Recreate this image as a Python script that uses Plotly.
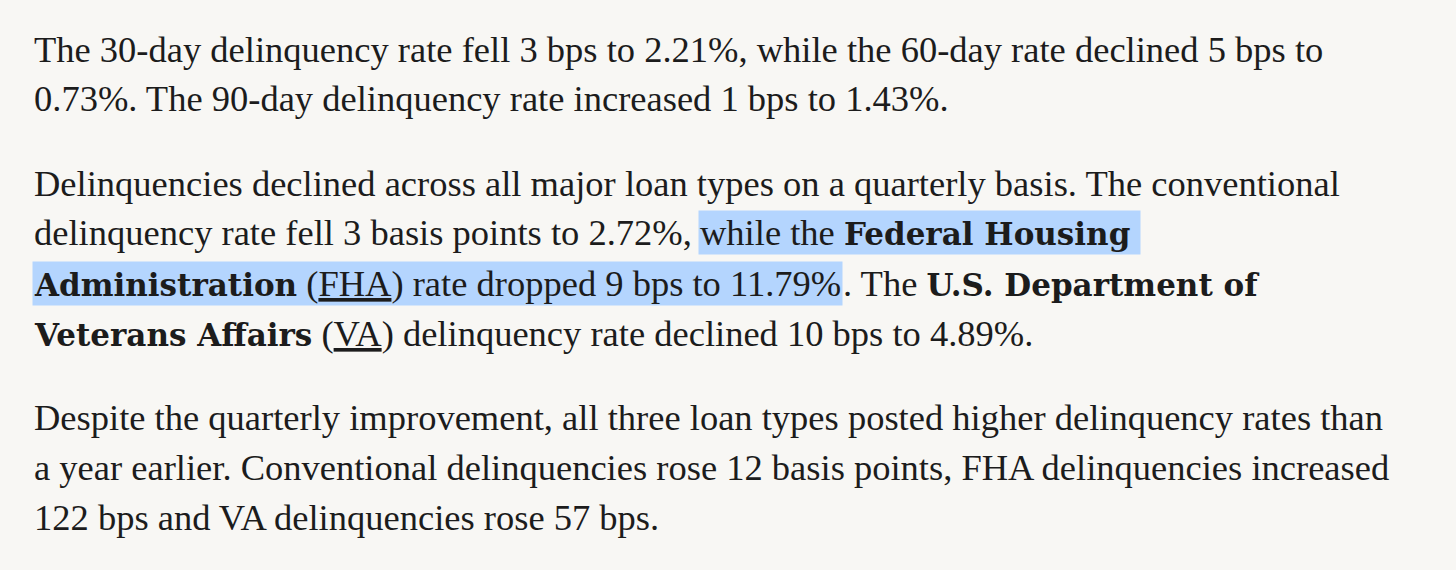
import plotly.graph_objects as go

W, H = 1456, 570

# paragraph text, one list item per rendered line
para_1 = [
    "The 30-day delinquency rate fell 3 bps to 2.21%, while the 60-day rate declined 5 bps to",
    "0.73%. The 90-day delinquency rate increased 1 bps to 1.43%.",
]
para_2 = [
    "Delinquencies declined across all major loan types on a quarterly basis. The conventional",
    "delinquency rate fell 3 basis points to 2.72%,",
    ". The <b>U.S. Department of</b>",
    "<b>Veterans Affairs</b> (<u>VA</u>) delinquency rate declined 10 bps to 4.89%.",
]
para_3 = [
    "Despite the quarterly improvement, all three loan types posted higher delinquency rates than",
    "a year earlier. Conventional delinquencies rose 12 basis points, FHA delinquencies increased",
    "122 bps and VA delinquencies rose 57 bps.",
]
paragraphs = [para_1, para_2, para_3]

# selected (highlighted) text pieces: paragraph, line, text
selected = [
    (1, 1, "while the <b>Federal Housing</b>\u00a0"),
    (1, 2, "<b>Administration</b> (<u>FHA</u>) rate dropped 9 bps to 11.79%"),
]

BG = "#f8f7f4"
INK = "#1c1c1c"
HL = "#b4d5fe"
FONT = "Liberation Serif"
BOLD_FONT = "DejaVu Serif"
SIZE = 36.5
BOLD_SIZE = 31
LEFT = 32
FIRST_BASE = 60
LINE_GAP = 50
PARA_GAP = 34
# where each line's text starts, px (pieces after or before a selection)
line_x = {(1, 1): LEFT, (1, 2): 841}
sel_x = {(1, 1): 698, (1, 2): LEFT}


def baseline(p, i):
    before = sum(len(paragraphs[k]) for k in range(p))
    return FIRST_BASE + (before + i) * LINE_GAP + p * PARA_GAP


def bold(txt):
    # the bold face of the original is wide, so borrow DejaVu's
    return txt.replace(
        "<b>", "<span style='font-family:%s;font-size:%spx'><b>" % (BOLD_FONT, BOLD_SIZE)
    ).replace("</b>", "</b></span>")


def put(fig, txt, x, b, bg=None):
    fig.add_annotation(text=bold(txt), xref="paper", yref="paper",
                       x=x / W, y=1 - (b - 11) / H,
                       xanchor="left", yanchor="middle",
                       showarrow=False, align="left", borderpad=1,
                       bgcolor=bg if bg else "rgba(0,0,0,0)",
                       font=dict(family=FONT, size=SIZE, color=INK))


fig = go.Figure()

for p, i, txt in selected:
    put(fig, txt, sel_x[(p, i)], baseline(p, i), HL)

for p, lines in enumerate(paragraphs):
    for i, txt in enumerate(lines):
        put(fig, txt, line_x.get((p, i), LEFT), baseline(p, i))

fig.update_layout(width=W, height=H,
                  margin=dict(l=0, r=0, t=0, b=0),
                  paper_bgcolor=BG, plot_bgcolor=BG,
                  xaxis=dict(visible=False), yaxis=dict(visible=False),
                  showlegend=False)

fig.write_html("out.html", config={"displayModeBar": False},
               post_script="document.body.style.margin='0';"
                           "document.body.style.background='" + BG + "';")
